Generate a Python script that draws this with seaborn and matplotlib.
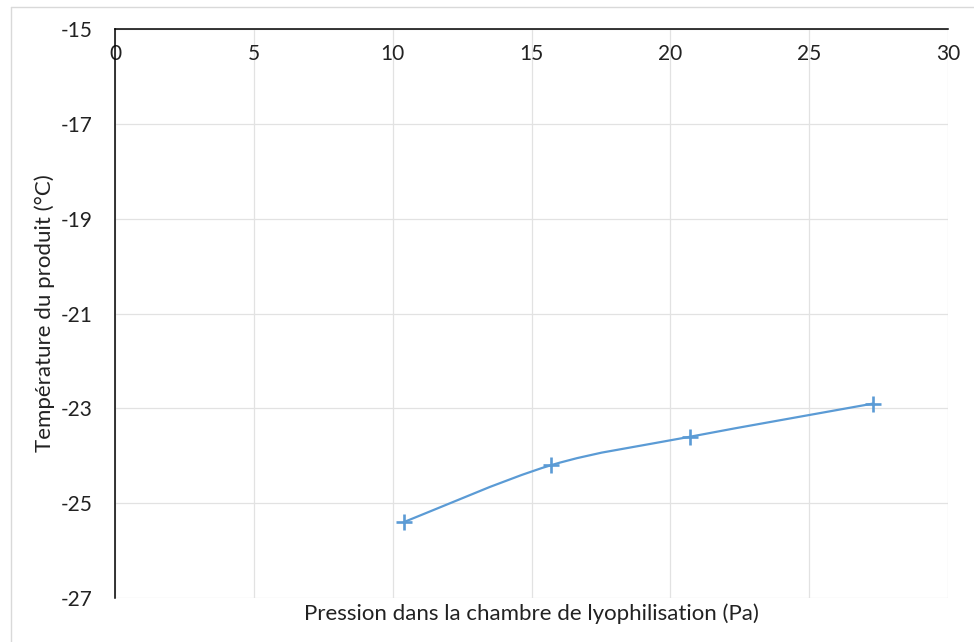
import matplotlib
matplotlib.use("Agg")
import matplotlib.pyplot as plt
import numpy as np
import pandas as pd
import seaborn as sns
from matplotlib.path import Path
from matplotlib.patches import PathPatch
from matplotlib.lines import Line2D

# values
pression = [10.4, 15.7, 20.7, 27.3]
temperature = [-25.4, -24.2, -23.6, -22.9]
x_ticks = [0, 5, 10, 15, 20, 25, 30]
y_ticks = [-15, -17, -19, -21, -23, -25, -27]

BLUE = "#5B9BD5"
GRID = "#e2e2e2"

sns.set_theme(style="white")
plt.rcParams["font.family"] = ["Lato", "DejaVu Sans"]
plt.rcParams["axes.unicode_minus"] = False

df = pd.DataFrame({"p": pression, "t": temperature})

fig = plt.figure(figsize=(9.74, 6.42), dpi=100)
ax = fig.add_axes([115 / 974, 1 - 598 / 642, 833 / 974, 569 / 642])

# smoothed line (Excel style bezier through the points)
pts = df[["p", "t"]].to_numpy()
ext = np.vstack([pts[0], pts, pts[-1]])
verts = [tuple(pts[0])]
codes = [Path.MOVETO]
for i in range(len(pts) - 1):
    p0, p1, p2, p3 = ext[i], ext[i + 1], ext[i + 2], ext[i + 3]
    c1 = p1 + (p2 - p0) / 6
    c2 = p2 - (p3 - p1) / 6
    verts += [tuple(c1), tuple(c2), tuple(p2)]
    codes += [Path.CURVE4] * 3
ax.add_patch(PathPatch(Path(verts, codes), fill=False, edgecolor=BLUE, lw=1.6,
                       capstyle="round", joinstyle="round", zorder=3))

sns.scatterplot(data=df, x="p", y="t", marker="+", s=140, color=BLUE,
                linewidth=1.9, ax=ax, zorder=4)

ax.set_xlim(0, 30)
ax.set_ylim(-27, -15)
ax.set_xticks(x_ticks)
ax.set_yticks(y_ticks)
ax.grid(True, color=GRID, lw=0.9)
ax.set_axisbelow(True)

# horizontal axis crosses at the top (y = -15)
ax.spines["bottom"].set_position(("data", -15))
ax.spines["top"].set_visible(False)
ax.spines["right"].set_visible(False)
for s in ("bottom", "left"):
    ax.spines[s].set_color("black")
    ax.spines[s].set_linewidth(1.1)
    ax.spines[s].set_zorder(5)

ax.tick_params(axis="both", direction="inout", length=11, width=1.1,
               color="black", labelsize=15, labelcolor="#222222")
ax.tick_params(axis="x", pad=5.5)
ax.tick_params(axis="y", pad=10.5)

ax.set_xlabel("Pression dans la chambre de lyophilisation (Pa)", fontsize=16, color="#222222")
ax.set_ylabel("Température du produit (°C)", fontsize=16, color="#222222")
ax.xaxis.set_label_coords(0.5, -0.01)
ax.yaxis.set_label_coords(-0.072, 0.5)

# chart area frame (top and left edges visible in the crop)
fig.add_artist(Line2D([11 / 974, 11 / 974], [0, 1 - 7 / 642], transform=fig.transFigure,
                      color="#d9d9d9", lw=1))
fig.add_artist(Line2D([11 / 974, 1], [1 - 7 / 642, 1 - 7 / 642], transform=fig.transFigure,
                      color="#d9d9d9", lw=1))

fig.savefig("out.png", dpi=100)
